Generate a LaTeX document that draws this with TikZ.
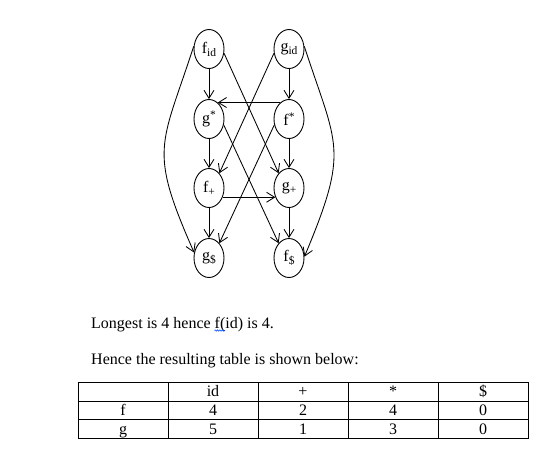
\documentclass[tikz,border=0pt]{standalone}
\usepackage{fontspec}
\setmainfont{Liberation Serif}
\usetikzlibrary{shapes.geometric,arrows.meta,decorations.pathmorphing}
\newcommand\lsub[1]{\raisebox{-3pt}{\fontsize{11.5}{13}\selectfont #1}}
\newcommand\lsup[1]{\raisebox{5.5pt}{\fontsize{11.5}{13}\selectfont #1}}
\begin{document}
\begin{tikzpicture}[x=1pt,y=-1pt,
  st/.style={ellipse,draw,line width=0.9pt,minimum width=30pt,minimum height=39pt,inner sep=0pt,font=\fontsize{16}{18}\selectfont},
  arr/.style={line width=0.85pt,-{Straight Barb[length=8pt,width=10pt]}},
  tl/.style={line width=0.9pt},
  txt/.style={anchor=base west,inner sep=0pt,font=\fontsize{16}{19}\selectfont},
  cell/.style={anchor=base,inner sep=0pt,font=\fontsize{16}{19}\selectfont}]
\useasboundingbox (0,0) rectangle (559,467);
\fill[white] (0,0) rectangle (559,467);
% nodes
\node[st] (fid)   at (209,49)  {f\lsub{id}};
\node[st] (gid)   at (289,49)  {g\lsub{id}};
\node[st] (gstar) at (209,119) {g\lsup{*}};
\node[st] (fstar) at (289,119) {f\lsup{*}};
\node[st] (fplus) at (209,188) {f\lsub{+}};
\node[st] (gplus) at (289,188) {g\lsub{+}};
\node[st] (gdol)  at (209,258) {g\lsub{\$}};
\node[st] (fdol)  at (289,258) {f\lsub{\$}};
% vertical edges
\draw[arr] (fid) -- (gstar);
\draw[arr] (gid) -- (fstar);
\draw[arr] (gstar) -- (fplus);
\draw[arr] (fstar) -- (gplus);
\draw[arr] (fplus) -- (gdol);
\draw[arr] (gplus) -- (fdol);
% horizontal edges
\draw[arr] (fstar.118) -- (gstar.62);
\draw[arr] (fplus.-34) -- (gplus.214);
% diagonals
\draw[arr] (fid.-16) -- (gplus.125);
\draw[arr] (gid.196) -- (fplus.55);
\draw[arr] (gstar.-22) -- (fdol.125);
\draw[arr] (fstar.202) -- (gdol.55);
% outer curves
\draw[arr] (fid.170) .. controls (161,147) and (148,148) .. (gdol.160);
\draw[arr] (gid.10) .. controls (337,147) and (350,148) .. (fdol.5);
% text
\node[txt] (t1) at (91,328) {Longest is 4 hence f(id) is 4.};
\draw[blue!70!cyan,line width=0.6pt,decorate,decoration={zigzag,amplitude=0.7pt,segment length=2.4pt}] (214.5,330.5) -- (225,330.5);
\node[txt] (t2) at (91,364) {Hence the resulting table is shown below:};
% table
\draw[tl] (78,382) rectangle (528,438);
\foreach \y in {401,419} \draw[tl] (78,\y) -- (528,\y);
\foreach \x in {168,258,348,438} \draw[tl] (\x,382) -- (\x,438);
\node[cell] (h1) at (213,396) {id};
\node[cell] (h2) at (303,396) {+};
\node[cell] (h3) at (393,396) {*};
\node[cell] (h4) at (483,396) {\$};
\node[cell] (r1) at (123,415) {f};
\node[cell] (a1) at (213,415) {4};
\node[cell] (a2) at (303,415) {2};
\node[cell] (a3) at (393,415) {4};
\node[cell] (a4) at (483,415) {0};
\node[cell] (r2) at (123,434) {g};
\node[cell] (b1) at (213,434) {5};
\node[cell] (b2) at (303,434) {1};
\node[cell] (b3) at (393,434) {3};
\node[cell] (b4) at (483,434) {0};
\end{tikzpicture}
\end{document}
